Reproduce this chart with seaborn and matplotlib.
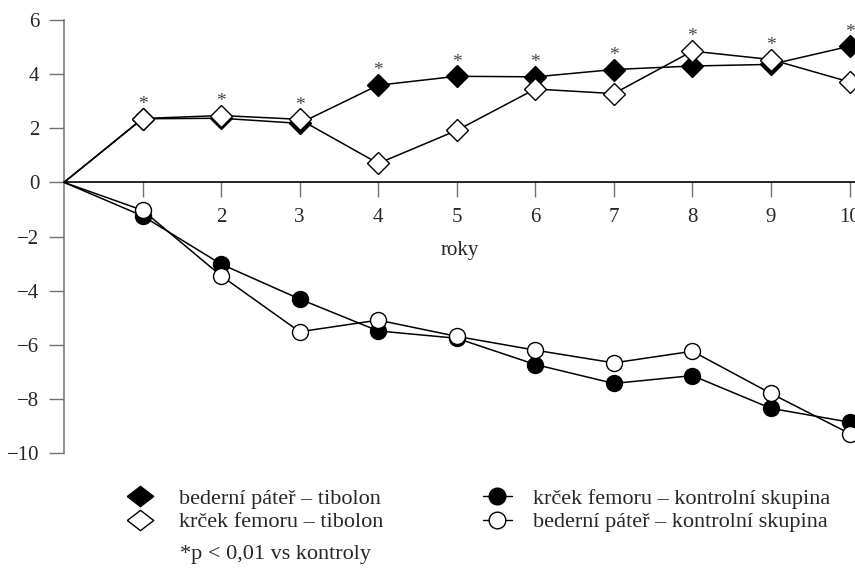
import pandas as pd
import numpy as np
import matplotlib
matplotlib.use('Agg')
import matplotlib.pyplot as plt
from matplotlib.lines import Line2D
import seaborn as sns

### ------------------- data ----------------------
years = [0, 1, 2, 3, 4, 5, 6, 7, 8, 9, 10]
bederni_tibolon = [0, 2.35, 2.37, 2.18, 3.59, 3.92, 3.90, 4.17, 4.30, 4.36, 5.03]
krcek_tibolon = [0, 2.36, 2.47, 2.33, 0.70, 1.92, 3.45, 3.28, 4.85, 4.54, 3.71]
krcek_kontrol = [0, -1.24, -3.02, -4.31, -5.49, -5.76, -6.73, -7.43, -7.14, -8.35, -8.86]
bederni_kontrol = [0, -1.03, -3.45, -5.52, -5.09, -5.69, -6.20, -6.67, -6.24, -7.80, -9.28]
signif_years = [1, 2, 3, 4, 5, 6, 7, 8, 9, 10]

labels = ['bederní páteř – tibolon', 'krček femoru – tibolon',
          'krček femoru – kontrolní skupina', 'bederní páteř – kontrolní skupina']
y_ticks = [-10, -8, -6, -4, -2, 0, 2, 4, 6]
x_ticks = [1, 2, 3, 4, 5, 6, 7, 8, 9, 10]

df = pd.DataFrame({'roky': years,
                   'bt': bederni_tibolon, 'kt': krcek_tibolon,
                   'kk': krcek_kontrol, 'bk': bederni_kontrol})

### ------------------- style ----------------------
sns.set_style('white')
plt.rcParams['font.family'] = ['Liberation Serif', 'DejaVu Serif']
fs = 15
fs_leg = 16

fig = plt.figure(figsize=(8.55, 5.71), dpi=100)
ax = fig.add_axes([64/855, 118/571, 791/855, 433/571])

# no marker at the origin, only the line starts there
line_kw = dict(color='black', linewidth=1.1, markeredgecolor='black',
               markeredgewidth=1.0, zorder=3, legend=False, markevery=slice(1, None))
# filled first, open markers on top
sns.lineplot(data=df, x='roky', y='bt', marker='D', markersize=11,
             markerfacecolor='black', ax=ax, **line_kw)
sns.lineplot(data=df, x='roky', y='kt', marker='D', markersize=11,
             markerfacecolor='white', ax=ax, **line_kw)
sns.lineplot(data=df, x='roky', y='kk', marker='o', markersize=11.5,
             markerfacecolor='black', ax=ax, **line_kw)
sns.lineplot(data=df, x='roky', y='bk', marker='o', markersize=11.5,
             markerfacecolor='white', ax=ax, **line_kw)

# asterisks above the tibolon points
for yr in signif_years:
    top = max(bederni_tibolon[yr], krcek_tibolon[yr])
    ax.annotate('*', (yr, top), xytext=(0, 7), textcoords='offset points',
                ha='center', va='baseline', fontsize=14, color='#444444',
                annotation_clip=False)

### ------------------- axes ----------------------
ax.set_xlim(0, 10.07)
ax.set_ylim(-10, 6)
ax.set_xticks(x_ticks)
ax.set_yticks(y_ticks)
ax.set_ylabel('')
ax.set_xlabel('roky', fontsize=fs, labelpad=10)

for s in ['top', 'right']:
    ax.spines[s].set_visible(False)
ax.spines['left'].set_color('#707070')
ax.spines['left'].set_linewidth(1.1)
ax.spines['bottom'].set_position(('data', 0))
ax.spines['bottom'].set_color('black')
ax.spines['bottom'].set_linewidth(1.2)

ax.tick_params(axis='y', direction='out', length=10.8, width=1.0, color='#707070',
               pad=7, labelsize=fs, left=True)
ax.tick_params(axis='x', direction='out', length=10.8, width=1.0, color='#707070',
               pad=8, labelsize=fs, bottom=True)

### ------------------- legend ----------------------
wide_d = [(-1.3, 0), (0, 1), (1.3, 0), (0, -1), (-1.3, 0)]
h1 = [Line2D([], [], ls='none', marker=wide_d, markersize=19, color='black',
             markerfacecolor='black', markeredgewidth=1.0),
      Line2D([], [], ls='none', marker=wide_d, markersize=19, color='black',
             markerfacecolor='white', markeredgewidth=1.0)]
h2 = [Line2D([], [], color='black', lw=1.0, marker='o', markersize=12,
             markerfacecolor='black', markeredgewidth=1.0),
      Line2D([], [], color='black', lw=1.0, marker='o', markersize=12,
             markerfacecolor='white', markeredgewidth=1.0)]

leg1 = fig.legend(h1, labels[:2], loc='upper left', bbox_to_anchor=(127/855, 1 - 488/571),
                  frameon=False, fontsize=fs_leg, handlelength=1.2, handletextpad=1.15,
                  labelspacing=0.15, borderpad=0, borderaxespad=0)
leg2 = fig.legend(h2, labels[2:], loc='upper left', bbox_to_anchor=(483/855, 1 - 488/571),
                  frameon=False, fontsize=fs_leg, handlelength=1.3, handletextpad=0.95,
                  labelspacing=0.15, borderpad=0, borderaxespad=0)

fig.text(180/855, 1 - 554/571, '*p < 0,01 vs kontroly', fontsize=fs_leg,
         ha='left', va='center')

fig.savefig('out.png', dpi=100)
